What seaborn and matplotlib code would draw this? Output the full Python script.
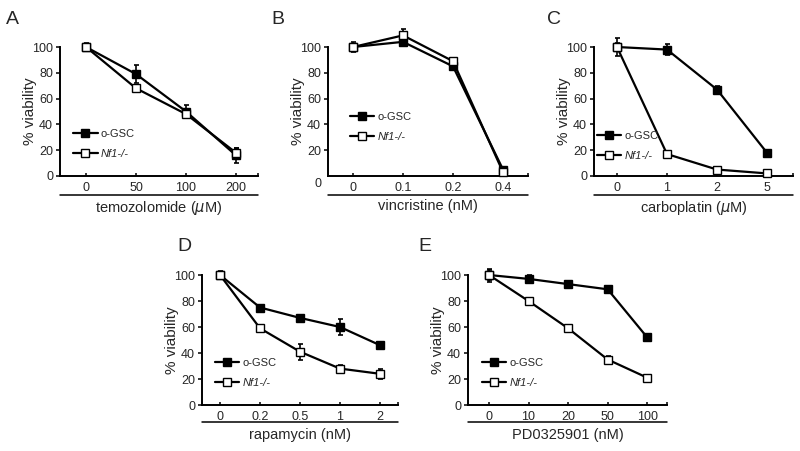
import matplotlib
matplotlib.use("Agg")
import matplotlib.pyplot as plt
import pandas as pd
import seaborn as sns

# ---- data ----
temozolomide_doses = ["0", "50", "100", "200"]
temozolomide_gsc = [100, 79, 50, 16]
temozolomide_gsc_err = [3, 7, 5, 6]
temozolomide_nf1 = [100, 68, 48, 18]
temozolomide_nf1_err = [2, 1, 3, 4]

vincristine_doses = ["0", "0.1", "0.2", "0.4"]
vincristine_gsc = [100, 104, 85, 5]
vincristine_gsc_err = [4, 2, 2, 1]
vincristine_nf1 = [100, 109, 89, 3]
vincristine_nf1_err = [2, 5, 1, 1]

carboplatin_doses = ["0", "1", "2", "5"]
carboplatin_gsc = [100, 98, 67, 18]
carboplatin_gsc_err = [7, 4, 3, 2]
carboplatin_nf1 = [100, 17, 5, 2]
carboplatin_nf1_err = [3, 1, 1, 1]

rapamycin_doses = ["0", "0.2", "0.5", "1", "2"]
rapamycin_gsc = [100, 75, 67, 60, 46]
rapamycin_gsc_err = [3, 1, 2, 6, 2]
rapamycin_nf1 = [100, 59, 41, 28, 24]
rapamycin_nf1_err = [2, 1, 6, 3, 4]

pd_doses = ["0", "10", "20", "50", "100"]
pd_gsc = [100, 97, 93, 89, 52]
pd_gsc_err = [5, 3, 2, 1, 1]
pd_nf1 = [100, 80, 59, 35, 21]
pd_nf1_err = [4, 1, 1, 3, 1]

y_ticks = [0, 20, 40, 60, 80, 100]

sns.set_theme(style="ticks")
plt.rcParams["font.family"] = ["Liberation Sans", "DejaVu Sans"]
plt.rcParams["axes.linewidth"] = 1.4

FIG_W = 800


def make_frame(doses, values, errors, group):
    """Build a small long-format table for one series."""
    return pd.DataFrame({
        "pos": list(range(len(doses))),
        "dose": doses,
        "viability": values,
        "err": errors,
        "group": group})


def draw_panel(fig, rect, letter, letter_xy, doses, gsc, gsc_err, nf1, nf1_err,
               xlabel, xlim, legend_xy, underline_y, zero_low=False):
    """Draw one dose-response panel."""
    ax = fig.add_axes(rect)
    series = [
        (make_frame(doses, gsc, gsc_err, "o-GSC"), "black"),
        (make_frame(doses, nf1, nf1_err, "Nf1-/-"), "white"),
    ]
    for frame, face in series:
        ax.errorbar(frame["pos"], frame["viability"], yerr=frame["err"],
                    fmt="none", ecolor="black", elinewidth=1.2, capsize=1.8,
                    capthick=1.2, clip_on=False, zorder=2)
        sns.lineplot(data=frame, x="pos", y="viability", ax=ax, color="black",
                     linewidth=1.6, marker="s", markersize=5.6,
                     markerfacecolor=face, markeredgecolor="black",
                     markeredgewidth=1.0, label=frame["group"].iloc[0],
                     clip_on=False, zorder=3)

    ax.set_xlim(*xlim)
    ax.set_ylim(0, 100)
    ax.set_xticks(range(len(doses)))
    ax.set_xticklabels(doses)
    ax.set_xticks([xlim[1]], minor=True)
    ax.tick_params(axis="x", which="both", direction="in", length=2.2,
                   width=1.1, labelsize=9, pad=4, color="black")
    ax.tick_params(axis="y", direction="out", length=3, width=1.1,
                   labelsize=9, pad=2, color="black")
    if zero_low:
        ax.set_yticks(y_ticks[1:])
        ax.annotate("0", xy=(0, 0), xycoords="axes fraction",
                    xytext=(-4.5, -6), textcoords="offset points",
                    ha="right", va="center", fontsize=9)
    else:
        ax.set_yticks(y_ticks)
    for side in ["top", "right"]:
        ax.spines[side].set_visible(False)
    for side in ["left", "bottom"]:
        ax.spines[side].set_color("black")

    ax.set_ylabel("% viability", fontsize=11)
    # the label's right edge sits about 23 px left of the y spine
    ax.yaxis.set_label_coords(-23 / (rect[2] * FIG_W), 0.5)
    ax.set_xlabel(xlabel, fontsize=10.5, labelpad=4)
    ax.plot([0, 1], [underline_y, underline_y], transform=ax.transAxes,
            color="black", linewidth=1.1, clip_on=False)

    leg = ax.legend(loc="center left", bbox_to_anchor=legend_xy, frameon=False,
                    fontsize=8, handlelength=2.2, handletextpad=0.3,
                    labelspacing=0.9, borderpad=0, borderaxespad=0)
    leg.get_texts()[1].set_fontstyle("italic")

    fig.text(letter_xy[0], letter_xy[1], letter, fontsize=14, va="baseline")
    return ax


fig = plt.figure(figsize=(8, 4.51), dpi=100)

top_bottom = 1 - 176 / 451
top_height = 129 / 451
low_bottom = 1 - 405 / 451
low_height = 130 / 451

draw_panel(fig, [60 / 800, top_bottom, 198 / 800, top_height], "A",
           (6 / 800, 1 - 24 / 451), temozolomide_doses,
           temozolomide_gsc, temozolomide_gsc_err,
           temozolomide_nf1, temozolomide_nf1_err,
           "temozolomide ($\\mu$M)", (-0.52, 3.44), (0.066, 0.248), -0.147)

draw_panel(fig, [328 / 800, top_bottom, 200 / 800, top_height], "B",
           (271 / 800, 1 - 24 / 451), vincristine_doses,
           vincristine_gsc, vincristine_gsc_err,
           vincristine_nf1, vincristine_nf1_err,
           "vincristine (nM)", (-0.5, 3.5), (0.11, 0.378), -0.147,
           zero_low=True)

draw_panel(fig, [594 / 800, top_bottom, 199 / 800, top_height], "C",
           (547 / 800, 1 - 24 / 451), carboplatin_doses,
           carboplatin_gsc, carboplatin_gsc_err,
           carboplatin_nf1, carboplatin_nf1_err,
           "carboplatin ($\\mu$M)", (-0.46, 3.52), (0.015, 0.232), -0.147)

draw_panel(fig, [202 / 800, low_bottom, 196 / 800, low_height], "D",
           (177 / 800, 1 - 251 / 451), rapamycin_doses,
           rapamycin_gsc, rapamycin_gsc_err,
           rapamycin_nf1, rapamycin_nf1_err,
           "rapamycin (nM)", (-0.45, 4.45), (0.066, 0.25), -0.131)

draw_panel(fig, [468 / 800, low_bottom, 199 / 800, low_height], "E",
           (418 / 800, 1 - 251 / 451), pd_doses,
           pd_gsc, pd_gsc_err,
           pd_nf1, pd_nf1_err,
           "PD0325901 (nM)", (-0.53, 4.5), (0.07, 0.25), -0.131)

fig.savefig("out.png", dpi=100)
